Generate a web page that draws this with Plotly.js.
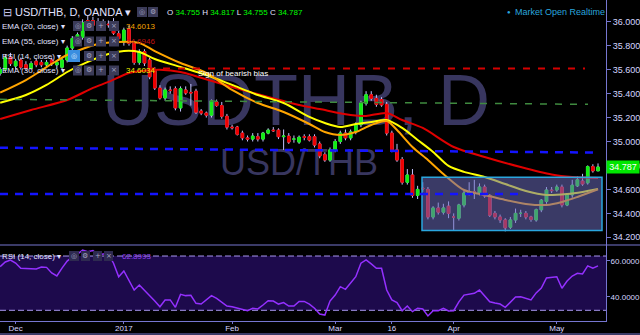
<!DOCTYPE html>
<html><head><meta charset="utf-8">
<script src="https://cdn.plot.ly/plotly-3.0.1.min.js"></script>
<style>
html,body{margin:0;padding:0;background:#000;width:640px;height:335px;overflow:hidden}
.wm{position:absolute;font-family:'Liberation Sans',Arial,sans-serif;color:#38365f;white-space:nowrap;line-height:1}
#wm1{left:102px;top:64px;font-size:72px}
#wm2{left:220px;top:145px;font-size:36px}
#chart{position:absolute;left:0;top:0;width:640px;height:335px}
</style></head>
<body>
<div class="wm" id="wm1">USDTHB, D</div>
<div class="wm" id="wm2">USD/THB</div>
<div id="chart"></div>
<script>
// ---------- data ----------
const dates = ['2016-11-28','2016-11-29','2016-11-30',
'2016-12-01','2016-12-02','2016-12-05','2016-12-06','2016-12-07','2016-12-08','2016-12-09','2016-12-12','2016-12-13','2016-12-14','2016-12-15','2016-12-16','2016-12-19','2016-12-20','2016-12-21','2016-12-22','2016-12-23','2016-12-27','2016-12-28','2016-12-29','2016-12-30',
'2017-01-03','2017-01-04','2017-01-05','2017-01-06','2017-01-09','2017-01-10','2017-01-11','2017-01-12','2017-01-13','2017-01-16','2017-01-17','2017-01-18','2017-01-19','2017-01-20','2017-01-23','2017-01-24','2017-01-25','2017-01-26','2017-01-27','2017-01-30','2017-01-31',
'2017-02-01','2017-02-02','2017-02-03','2017-02-06','2017-02-07','2017-02-08','2017-02-09','2017-02-10','2017-02-13','2017-02-14','2017-02-15','2017-02-16','2017-02-17','2017-02-20','2017-02-21','2017-02-22','2017-02-23','2017-02-24','2017-02-27','2017-02-28',
'2017-03-01','2017-03-02','2017-03-03','2017-03-06','2017-03-07','2017-03-08','2017-03-09','2017-03-10','2017-03-13','2017-03-14','2017-03-15','2017-03-16','2017-03-17','2017-03-20','2017-03-21','2017-03-22','2017-03-23','2017-03-24','2017-03-27','2017-03-28','2017-03-29','2017-03-30','2017-03-31',
'2017-04-03','2017-04-04','2017-04-05','2017-04-06','2017-04-07','2017-04-10','2017-04-11','2017-04-12','2017-04-13','2017-04-14','2017-04-17','2017-04-18','2017-04-19','2017-04-20','2017-04-21','2017-04-24','2017-04-25','2017-04-26','2017-04-27','2017-04-28',
'2017-05-01','2017-05-02','2017-05-03','2017-05-04','2017-05-05','2017-05-08','2017-05-09','2017-05-10','2017-05-11'];

const open = [35.57,35.60,35.70,
35.63,35.68,35.64,35.61,35.67,35.66,35.64,35.68,35.64,35.62,35.68,35.78,35.86,35.87,36.01,36.01,36.00,35.955,35.98,36.00,35.90,
35.83,35.94,35.82,35.66,35.75,35.68,35.60,35.446,35.363,35.43,35.44,35.28,35.43,35.41,35.42,35.254,35.237,35.22,35.33,35.30,35.21,
35.12,35.12,35.07,35.03,35.02,35.04,35.02,35.07,35.095,35.095,35.04,35.045,35.02,34.995,35.04,35.04,35.04,34.98,34.89,34.845,
34.93,35.00,35.07,35.03,35.08,35.14,35.32,35.39,35.36,35.35,35.31,35.07,34.93,34.85,34.66,34.72,34.55,34.61,34.60,34.37,34.445,34.41,34.46,
34.37,34.36,34.47,34.57,34.58,34.57,34.62,34.55,34.40,34.37,34.345,34.285,34.345,34.40,34.40,34.37,34.345,34.43,34.50,34.595,
34.595,34.62,34.47,34.555,34.63,34.67,34.655,34.79,34.755];

const high = [35.62,35.73,35.74,
35.69,35.70,35.67,35.67,35.69,35.68,35.68,35.70,35.67,35.70,35.80,35.88,35.91,36.02,36.05,36.04,36.03,36.02,36.01,36.03,35.93,
35.95,35.97,35.84,35.77,35.77,35.70,35.62,35.47,35.45,35.46,35.46,35.46,35.46,35.48,35.44,35.27,35.25,35.35,35.35,35.33,35.23,
35.14,35.13,35.09,35.05,35.07,35.07,35.08,35.11,35.12,35.11,35.10,35.07,35.05,35.05,35.06,35.06,35.06,35.00,34.91,34.95,
35.02,35.09,35.10,35.10,35.16,35.34,35.42,35.42,35.39,35.37,35.33,35.09,34.98,34.87,34.77,34.77,34.63,34.66,34.62,34.46,34.49,34.48,34.50,
34.40,34.48,34.59,34.66,34.68,34.65,34.64,34.56,34.42,34.39,34.36,34.37,34.44,34.43,34.42,34.38,34.44,34.52,34.62,34.62,
34.64,34.64,34.57,34.68,34.71,34.73,34.80,34.81,34.817];

const low = [35.55,35.58,35.63,
35.60,35.60,35.59,35.60,35.62,35.62,35.62,35.63,35.61,35.60,35.66,35.76,35.80,35.85,35.97,35.95,35.96,35.94,35.95,35.89,35.84,
35.80,35.80,35.64,35.64,35.63,35.52,35.43,35.35,35.34,35.40,35.26,35.25,35.39,35.30,35.23,35.22,35.20,35.20,35.29,35.19,35.10,
35.10,35.05,35.01,35.00,35.00,35.00,35.00,35.06,35.08,35.02,34.93,34.98,34.99,34.98,35.01,35.00,34.95,34.86,34.83,34.83,
34.91,34.98,35.01,35.01,35.06,35.12,35.30,35.34,35.29,35.29,35.05,34.91,34.83,34.64,34.64,34.53,34.52,34.58,34.35,34.35,34.39,34.39,34.36,
34.26,34.34,34.45,34.55,34.52,34.55,34.53,34.37,34.35,34.32,34.25,34.27,34.32,34.37,34.35,34.33,34.33,34.41,34.48,34.57,
34.58,34.45,34.46,34.53,34.62,34.63,34.64,34.74,34.755];

const close = [35.60,35.70,35.65,
35.67,35.62,35.61,35.65,35.64,35.64,35.66,35.65,35.66,35.68,35.78,35.86,35.89,35.99,35.99,35.97,35.985,36.00,35.975,35.905,35.86,
35.93,35.82,35.66,35.75,35.655,35.54,35.446,35.363,35.43,35.425,35.28,35.44,35.405,35.405,35.245,35.237,35.22,35.34,35.30,35.21,35.12,
35.115,35.06,35.03,35.02,35.045,35.02,35.07,35.095,35.09,35.04,35.045,34.995,35.02,35.035,35.035,35.012,34.97,34.88,34.845,34.93,
35.00,35.07,35.03,35.08,35.14,35.32,35.39,35.36,35.31,35.305,35.07,34.93,34.845,34.66,34.72,34.55,34.60,34.605,34.37,34.445,34.41,34.445,34.40,
34.37,34.47,34.57,34.58,34.575,34.62,34.545,34.385,34.37,34.345,34.28,34.345,34.40,34.40,34.37,34.35,34.43,34.51,34.595,34.59,
34.62,34.47,34.56,34.635,34.68,34.645,34.79,34.755,34.787];

const ema55Dates = ['2016-11-28','2016-12-06','2016-12-15','2016-12-22','2016-12-28','2017-01-04','2017-01-10','2017-01-12','2017-01-18','2017-01-23','2017-02-01','2017-02-10','2017-02-20','2017-02-24','2017-03-06','2017-03-09','2017-03-15','2017-03-20','2017-03-24','2017-04-03','2017-04-11','2017-04-20','2017-04-28','2017-05-04','2017-05-11'];
const ema55 = [35.188,35.263,35.346,35.447,35.497,35.572,35.595,35.598,35.58,35.545,35.455,35.371,35.305,35.271,35.221,35.213,35.238,35.179,35.113,34.954,34.871,34.787,34.725,34.704,34.695];

const ema20Dates = ['2016-11-28','2016-12-05','2016-12-12','2016-12-15','2016-12-23','2016-12-30','2017-01-06','2017-01-11','2017-01-18','2017-01-25','2017-02-01','2017-02-08','2017-02-15','2017-02-22','2017-02-27','2017-03-02','2017-03-07','2017-03-10','2017-03-15','2017-03-17','2017-03-22','2017-03-27','2017-03-30','2017-04-05','2017-04-11','2017-04-17','2017-04-21','2017-04-27','2017-05-02','2017-05-05','2017-05-11'];
const ema20 = [35.408,35.513,35.647,35.722,35.814,35.831,35.822,35.755,35.655,35.572,35.430,35.321,35.246,35.146,35.079,35.054,35.079,35.138,35.171,35.096,34.954,34.846,34.729,34.595,34.554,34.512,34.479,34.470,34.495,34.537,34.601];

const ema30Dates = ['2016-11-28','2016-12-05','2016-12-09','2016-12-15','2016-12-21','2016-12-28','2017-01-03','2017-01-06','2017-01-11','2017-01-18','2017-01-25','2017-02-01','2017-02-08','2017-02-15','2017-02-22','2017-02-27','2017-03-02','2017-03-07','2017-03-10','2017-03-15','2017-03-20','2017-03-23','2017-03-28','2017-03-31','2017-04-05','2017-04-11','2017-04-17','2017-04-21','2017-04-27','2017-05-03','2017-05-08','2017-05-11'];
const ema30 = [35.324,35.388,35.472,35.580,35.664,35.730,35.755,35.747,35.689,35.622,35.555,35.472,35.388,35.321,35.205,35.154,35.121,35.146,35.163,35.179,35.113,35.013,34.913,34.796,34.746,34.704,34.645,34.587,34.554,34.562,34.579,34.603];

const rsi = [56.7,59.3,60.4,58.7,55.8,55.8,55.8,55.4,56.5,56.3,
53.2,51.5,55.9,59.8,62.1,63.7,65.9,65.0,65.6,63.2,
63.7,63.7,58.6,51.1,54.3,49.3,43.7,46.5,43.7,40.9,
37.6,34.4,38.2,38.2,34.1,41.3,40.6,40.8,36.3,35.9,
38.2,40.6,39.1,37.1,34.8,34.4,33.7,32.6,32.2,33.6,
33.2,35.4,37.8,37.6,35.9,36.7,34.8,34.8,37.4,37.4,
35.9,33.6,30.4,29.8,37.6,40.9,45.6,44.1,47.6,51.1,
58.6,60.4,58.2,55.8,55.8,43.7,38.2,36.7,32.2,34.8,
31.7,33.6,33.2,29.3,32.2,32.2,33.6,32.1,32.2,37.1,
40.9,41.5,41.9,43.7,40.4,37.2,36.5,35.9,34.1,37.1,
39.8,40.0,39.0,38.2,42.1,44.8,50.4,50.9,51.1,44.7,
48.7,51.5,53.0,52.6,57.1,55.8,57.1];

const tickDates = ['2016-12-01','2017-01-03','2017-02-01','2017-03-01','2017-03-16','2017-04-03','2017-05-01'];
const tickLabels = ['Dec','2017','Feb','Mar','16','Apr','May'];
const priceTicks = [34.2,34.4,34.6,34.8,35.0,35.2,35.4,35.6,35.8,36.0];
const rsiTicks = [40,60];
const rsiBands = [32.44, 62.6];
const redLevel = [35.609, 35.609];
const greenTrend = [35.352, 35.31];
const blueUpper = [34.948, 34.908];
const blueLower = [34.562, 34.562];
const rangeBox = [34.257, 34.701];
const ohlcLast = ['34.755','34.817','34.755','34.787'];
const emaLabels = ['34.6013','34.6946','34.6034'];
const rsiLabel = '62.8993';

// ---------- layout helpers ----------
const W = 606, H = 321;
const FONT = 'Liberation Sans, Arial, sans-serif';
const shapes = [], annotations = [];
function A(text, X, Y, size, color, extra){
  annotations.push(Object.assign({text:text, x:X/W, y:1-Y/H, xref:'paper', yref:'paper',
    xanchor:'left', yanchor:'middle', showarrow:false,
    font:{family:FONT, size:size, color:color}}, extra||{}));
}
function B(X0,Y0,X1,Y1,glyph,bg,gc){
  shapes.push({type:'rect', xref:'paper', yref:'paper', x0:X0/W, x1:X1/W, y0:1-Y1/H, y1:1-Y0/H,
    fillcolor:bg||'#3b3b58', line:{width:0}, layer:'above'});
  annotations.push({text:glyph, x:(X0+X1)/2/W, y:1-(Y0+Y1)/2/H, xref:'paper', yref:'paper',
    xanchor:'center', yanchor:'middle', showarrow:false,
    font:{family:'DejaVu Sans', size:7, color:gc||'#a6a6c2'}});
}
const cx = X => X*117.58/606 - 0.03;   // pixel -> category position

// range box (tints what is below it)
shapes.push({type:'rect', xref:'x', yref:'y', x0:cx(422), x1:cx(602), y0:rangeBox[0], y1:rangeBox[1],
  fillcolor:'rgba(105,105,185,0.55)', line:{color:'#2aa6de', width:1.5}, layer:'above'});
// dashed levels
shapes.push({type:'line', xref:'x', yref:'y', x0:cx(148), x1:cx(585), y0:redLevel[0], y1:redLevel[1], line:{color:'#d40000', width:2, dash:'7px,8px'}, layer:'above'});
shapes.push({type:'line', xref:'x', yref:'y', x0:cx(0), x1:cx(588), y0:greenTrend[0], y1:greenTrend[1], line:{color:'#3f8a3f', width:1.5, dash:'7px,8px'}, layer:'above'});
shapes.push({type:'line', xref:'x', yref:'y', x0:cx(0), x1:cx(593), y0:blueUpper[0], y1:blueUpper[1], line:{color:'#1414ff', width:2.5, dash:'8px,7px'}, layer:'above'});
shapes.push({type:'line', xref:'x', yref:'y', x0:cx(0), x1:cx(523), y0:blueLower[0], y1:blueLower[1], line:{color:'#1414ff', width:2.5, dash:'8px,7px'}, layer:'above'});
// RSI band
shapes.push({type:'rect', xref:'paper', yref:'y2', x0:0, x1:1, y0:rsiBands[0], y1:rsiBands[1], fillcolor:'#1d0a4c', line:{width:0}, layer:'below'});
rsiBands.forEach(v => shapes.push({type:'line', xref:'paper', yref:'y2', x0:0, x1:1, y0:v, y1:v, line:{color:'#a898f0', width:1, dash:'6px,3px'}, layer:'below'}));
// pane separator and bottom border
shapes.push({type:'line', xref:'paper', yref:'paper', x0:0, x1:640/W, y0:1-245/H, y1:1-245/H, line:{color:'#7676d0', width:1}, layer:'above'});
shapes.push({type:'line', xref:'paper', yref:'paper', x0:0, x1:640/W, y0:1-334/H, y1:1-334/H, line:{color:'#7676d0', width:1}, layer:'above'});

// legend rows
const txt = '#e2e2ff';
A('⊟', 1, 12.5, 11, '#c8c8f0');
A('USD/THB, D, OANDA ▾', 13, 12.5, 11, txt);
B(137,7,147,17,'◎'); B(148,7,158,17,'⚙');
A('O <span style="color:#00ff00">'+ohlcLast[0]+'</span> H <span style="color:#00ff00">'+ohlcLast[1]+'</span> L <span style="color:#00ff00">'+ohlcLast[2]+'</span> C <span style="color:#00ff00">'+ohlcLast[3]+'</span>', 165, 12.5, 8, txt);

const rows = [['EMA (20, close) ▾',26,emaLabels[0],'#f5a300'],['EMA (55, close) ▾',41.5,emaLabels[1],'#c41010'],['RSI (14, close) ▾',56,null,null],['EMA (30, close) ▾',70.5,emaLabels[2],'#ecec00']];
rows.forEach((r,i) => {
  A(r[0], 0, r[1], 8, txt);
  const y0 = r[1]-5, y1 = r[1]+5;
  if (i === 2) B(68, r[1]-6, 80, r[1]+6, '◎', '#3a8ee0', '#e0f0ff'); else B(73,y0,82,y1,'◎');
  B(84,y0,94,y1,'⚙'); B(96,y0,106,y1,'+'); B(109,y0,119,y1,'×');
  if (r[2]) A(r[2], 124, r[1], 8, r[3]);
});
A('Sign of bearish bias', 196, 73, 8, '#ffffff');
A('●', 505, 12, 6, '#2aa6de');
A('Market Open Realtime', 513, 12, 9, '#2aa6de');
// RSI legend
A('RSI (14, close) ▾', 0, 256, 8, txt);
B(69,251,79,261,'◎','#2e2a50'); B(81,251,90,261,'⚙','#2e2a50'); B(93,251,102,261,'+','#2e2a50'); B(104,251,113,261,'×','#2e2a50');
A(rsiLabel, 120, 256, 8, '#9040f0');
// last price tag
A(ohlcLast[3], 606, 166.5, 9, '#ffffff', {bgcolor:'#00e600', borderpad:1, width:30, height:10, align:'center'});

// ---------- traces ----------
const bodyHi = open.map((o,i) => Math.max(o, close[i]));
const bodyLo = open.map((o,i) => Math.min(o, close[i]));
const traces = [
  {type:'candlestick', x:dates, open:open, high:high, low:low, close:close, xaxis:'x', yaxis:'y',
   increasing:{line:{color:'#c4c4ff', width:1}, fillcolor:'#c4c4ff'},
   decreasing:{line:{color:'#c4c4ff', width:1}, fillcolor:'#c4c4ff'}, hoverinfo:'skip'},
  {type:'candlestick', x:dates, open:open, high:bodyHi, low:bodyLo, close:close, xaxis:'x', yaxis:'y',
   increasing:{line:{color:'#12ee12', width:1}, fillcolor:'#12ee12'},
   decreasing:{line:{color:'#ee0000', width:1}, fillcolor:'#ee0000'}, hoverinfo:'skip'},
  {type:'scatter', mode:'lines', x:ema55Dates, y:ema55, xaxis:'x', yaxis:'y', line:{color:'#e00000', width:2, shape:'spline', smoothing:0.8}},
  {type:'scatter', mode:'lines', x:ema30Dates, y:ema30, xaxis:'x', yaxis:'y', line:{color:'#ffff00', width:2, shape:'spline', smoothing:0.8}},
  {type:'scatter', mode:'lines', x:ema20Dates, y:ema20, xaxis:'x', yaxis:'y', line:{color:'#ffa500', width:2, shape:'spline', smoothing:0.8}},
  {type:'scatter', mode:'lines', x:dates, y:rsi, xaxis:'x', yaxis:'y2', line:{color:'#9430ff', width:1.5}}
];

const axisCol = '#7676d0';
const tickFont = {family:FONT, size:9, color:'#d6d6ff'};
const layout = {
  width:640, height:335, margin:{l:0, r:34, t:0, b:14},
  paper_bgcolor:'rgba(0,0,0,0)', plot_bgcolor:'rgba(0,0,0,0)',
  showlegend:false, hovermode:false,
  xaxis:{type:'category', categoryorder:'array', categoryarray:dates, range:[-0.03, 117.55],
    anchor:'y2', showgrid:false, zeroline:false, showline:true, linecolor:axisCol, linewidth:1,
    ticks:'outside', ticklen:2, tickcolor:axisCol, tickvals:tickDates, ticktext:tickLabels,
    ticklabelstandoff:-3,
    tickfont:{family:FONT, size:8, color:'#d6d6ff'}, rangeslider:{visible:false}, fixedrange:true},
  yaxis:{domain:[1-245/H, 1], range:[34.136, 36.181], side:'right', showgrid:false, zeroline:false,
    showline:true, linecolor:axisCol, linewidth:1, ticks:'outside', ticklen:4, tickcolor:axisCol,
    tickvals:priceTicks, tickformat:'.3f', tickfont:tickFont, fixedrange:true},
  yaxis2:{domain:[0, 1-245/H], range:[26.5, 68.72], side:'right', showgrid:false, zeroline:false,
    showline:true, linecolor:axisCol, linewidth:1, ticks:'outside', ticklen:3, tickcolor:axisCol,
    tickvals:rsiTicks, tickformat:'.4f', ticklabelstandoff:-1,
    tickfont:{family:FONT, size:8, color:'#d6d6ff'}, fixedrange:true},
  shapes:shapes, annotations:annotations
};
Plotly.newPlot('chart', traces, layout, {staticPlot:true, displayModeBar:false});
</script>
</body></html>
